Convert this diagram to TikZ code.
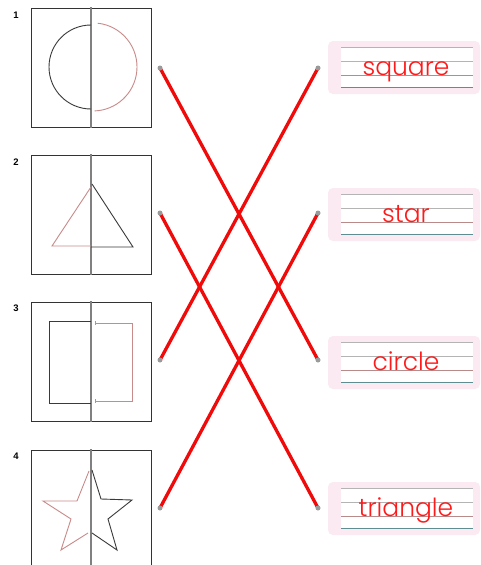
\documentclass[tikz,border=0pt]{standalone}
\usepackage{fontspec}
\newfontfamily\labfont{Poppins Light}
\newfontfamily\numfont{Liberation Sans}
\definecolor{boxgray}{HTML}{333333}
\definecolor{midgray}{HTML}{808080}
\definecolor{halfred}{HTML}{C98A8A}
\definecolor{halfblack}{HTML}{3A3A3A}
\definecolor{connred}{HTML}{F00A0A}
\definecolor{dotgray}{HTML}{9A9A9A}
\definecolor{pinkbg}{HTML}{FBEAF1}
\definecolor{ruleA}{HTML}{B4B4B4}
\definecolor{ruleC}{HTML}{B88A8A}
\definecolor{ruleD}{HTML}{5F8E92}
\definecolor{wordred}{HTML}{FF1A1A}
\begin{document}
\begin{tikzpicture}[x=1pt,y=-1pt,
  panel/.style={draw=boxgray, line width=0.9pt},
  midline/.style={draw=midgray, line width=1.2pt},
  blackhalf/.style={draw=halfblack, line width=0.9pt, line join=miter},
  redhalf/.style={draw=halfred, line width=0.9pt, line join=miter},
  conn/.style={draw=connred, line width=3.3pt, line cap=round},
  dotnode/.style={circle, fill=dotgray, inner sep=0pt, minimum size=5pt},
  numlabel/.style={font=\numfont\bfseries\fontsize{9.5}{10}\selectfont, inner sep=0pt},
  pinkbox/.style={fill=pinkbg, rounded corners=5pt},
  rulegray/.style={draw=ruleA, line width=0.8pt},
  rulebrown/.style={draw=ruleC, line width=0.9pt},
  ruleteal/.style={draw=ruleD, line width=1.1pt},
  word/.style={font=\labfont\fontsize{25}{25}\selectfont, text=wordred, inner sep=0pt, anchor=base}
]
\useasboundingbox (0,0) rectangle (480,565);
\clip (0,0) rectangle (480,565);
\fill[white] (0,0) rectangle (480,565);

% number labels
\node[numlabel] (n1) at (16,15) {1};
\node[numlabel] (n2) at (16,162) {2};
\node[numlabel] (n3) at (16,308) {3};
\node[numlabel] (n4) at (16,456) {4};

% panels
\foreach \t in {8,155,302,450}{
  \draw[panel] (31.5,\t) rectangle (151,\t+119);
  \draw[midline] (91,\t-1) -- (91,\t+120);
}

% panel 1: circle
\draw[blackhalf] (91,25) arc[start angle=90, end angle=270, radius=42pt];
\draw[redhalf] (97.6,23.2) arc[start angle=84, end angle=-88, radius=44pt];

% panel 2: triangle
\draw[redhalf] (91,187) -- (52,246) -- (91,246);
\draw[blackhalf] (92,184) -- (133,247) -- (91,247);

% panel 3: rectangle
\draw[blackhalf] (91,321) -- (49,321) -- (49,403) -- (91,403);
\draw[redhalf] (95,323) -- (132,323) -- (132,401) -- (95,401);
\draw[redhalf, line width=0.7pt] (95,321) -- (95,325) (95,399) -- (95,403);

% panel 4: star
\draw[blackhalf] (92,470) -- (101,499) -- (132,500) -- (108,519) -- (117,550) -- (92,533);
\draw[redhalf] (89,471) -- (77,501) -- (43,501) -- (71,519) -- (61,550) -- (88,533);

% word boxes
\foreach \t/\w/\nm in {41/square/w1,188/star/w2,336/circle/w3,482/triangle/w4}{
  \fill[pinkbox] (328,\t) rectangle (480,\t+53);
  \fill[white] (341,\t+6) rectangle (473,\t+46.5);
  \draw[rulegray] (341,\t+6) -- (473,\t+6);
  \draw[rulegray] (341,\t+20.5) -- (473,\t+20.5);
  \draw[rulebrown] (341,\t+34.5) -- (473,\t+34.5);
  \draw[ruleteal] (341,\t+46.5) -- (473,\t+46.5);
  \node[word] (\nm) at (406,\t+34.5) {\w};
}

% connector end points
\coordinate (L1) at (160,68);
\coordinate (L2) at (160,213);
\coordinate (L3) at (160,360);
\coordinate (L4) at (160,508);
\coordinate (R1) at (318,68);
\coordinate (R2) at (318,213);
\coordinate (R3) at (318,360);
\coordinate (R4) at (318,508);

\draw[conn] (L1) -- (R3);
\draw[conn] (L2) -- (R4);
\draw[conn] (L3) -- (R1);
\draw[conn] (L4) -- (R2);

\foreach \p in {L1,L2,L3,L4,R1,R2,R3,R4}{
  \node[dotnode] (d\p) at (\p) {};
}
\end{tikzpicture}
\end{document}
